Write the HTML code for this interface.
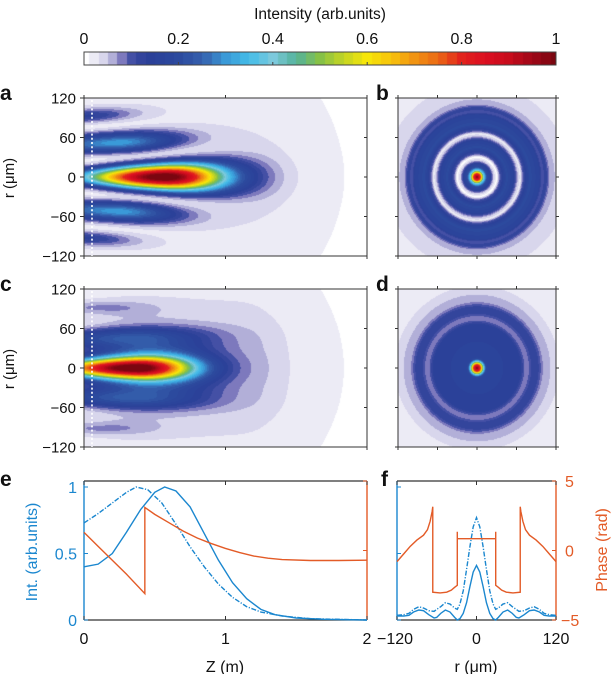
<!DOCTYPE html>
<html><head><meta charset="utf-8">
<style>
html,body{margin:0;padding:0;background:#fff;}
#wrap{position:relative;width:615px;height:674px;overflow:hidden;font-family:"Liberation Sans",sans-serif;}
canvas{position:absolute;}
svg{position:absolute;left:0;top:0;}
</style></head><body>
<div id="wrap">
<canvas id="cbar" width="472" height="13" style="left:84px;top:52px"></canvas>
<canvas id="ca" width="283" height="158" style="left:84px;top:98px"></canvas>
<canvas id="cb" width="158" height="158" style="left:398px;top:98px"></canvas>
<canvas id="cc" width="283" height="158" style="left:84px;top:289px"></canvas>
<canvas id="cd" width="158" height="158" style="left:398px;top:289px"></canvas>
<svg id="svg" width="615" height="674"></svg>
</div>
<script>
// ---------- data ----------
const cmapVals = [0,0.02,0.04,0.06,0.08,0.1,0.13,0.2,0.25,0.3,0.35,0.4,0.45,0.5,0.55,0.6,0.65,0.7,0.75,0.8,0.85,0.9,0.95,1];
const cmapCols = ["#ffffff","#ecebf5","#d8d6ec","#b2afd8","#7d79bd","#4450a5","#2b3f98","#2c4a9e","#3560ad","#3a9ad8","#44bde9","#7cc9dc","#55b39c","#86c146","#c5d524","#f6e60a","#f8c40c","#f29512","#eb6a15","#e2231c","#dc0f22","#c80c1c","#a00818","#7a0610"];
const cbarTicks = [0,0.2,0.4,0.6,0.8,1];
const cbarLabels = ["0","0.2","0.4","0.6","0.8","1"];

// panel a field blobs (coherent)
const aZ0=[0.57,0.25,0.25,0.0,0.0];
const aR0=[0,50,-50,92,-92];
const aRdrift=[0,8,-8,10,-10];
const aA=[1,0.28,0.28,0.12,0.12];
const aSzL=[0.55,0.6,0.6,0.3,0.3];
const aSzR=[0.42,0.42,0.42,0.35,0.35];
const aSr0=[14,15,15,11,11];
const aSrGrow=[10,2,2,2,2];
const aSign=[1,-1,-1,1,1];
const aHaloA=[0.02,0.025,0.006];
const aHaloZ0=[0.7,0.8,1.0];
const aHaloSz=[1.05,0.6,5];
const aHaloSr=[250,55,1000];

// panel c field blobs
const cZ0=[0.37,0.3,0.3,0.1,0.1];
const cR0=[0,45,-45,92,-92];
const cRdrift=[0,5,-5,0,0];
const cA=[1,0.18,0.18,0.05,0.05];
const cSzL=[0.6,0.8,0.8,0.4,0.4];
const cSzR=[0.4,0.5,0.5,0.4,0.4];
const cSr0=[14,14,14,10,10];
const cSrGrow=[8,3,3,2,2];
const cSign=[1,1,1,1,1];
const cHaloA=[0.02,0.03,0.006];
const cHaloZ0=[0.7,0.75,1.0];
const cHaloSz=[1.05,0.65,5];
const cHaloSr=[250,85,1000];

// radial profiles b, d
const bR=[0,5,10,15,20,25,30,35,45,55,62,66,70,80,95,99,104,110,118,130,160,200];
const bI=[1,0.8,0.4,0.2,0.15,0.05,0.0,0.1,0.2,0.15,0.05,0.02,0.1,0.2,0.15,0.09,0.13,0.07,0.05,0.035,0.022,0.02];
const dR=[0,5,10,14,20,40,66,72,78,84,92,100,108,115,125,150,200];
const dI=[1,0.8,0.4,0.18,0.15,0.15,0.14,0.09,0.085,0.12,0.12,0.07,0.06,0.04,0.03,0.02,0.02];

// panel e
const eZ=[0,0.1,0.2,0.3,0.4,0.5,0.57,0.65,0.75,0.85,0.95,1.05,1.15,1.25,1.35,1.5,1.7,2];
const eSolid=[0.40,0.42,0.50,0.66,0.83,0.96,1.0,0.97,0.85,0.65,0.45,0.28,0.16,0.08,0.04,0.015,0.005,0];
const eDZ=[0,0.1,0.2,0.3,0.37,0.45,0.55,0.65,0.75,0.85,0.95,1.05,1.15,1.25,1.4,1.6,2];
const eDash=[0.73,0.80,0.88,0.96,1.0,0.98,0.88,0.72,0.55,0.40,0.27,0.17,0.10,0.06,0.03,0.01,0];
const ePZ=[0,0.1,0.2,0.3,0.43,0.43,0.5,0.6,0.7,0.8,0.9,1.0,1.1,1.2,1.3,1.4,1.6,1.8,2.0];
const ePhase=[1.3,0.3,-0.7,-1.7,-3.1,3.1,2.6,2.0,1.4,0.9,0.5,0.15,-0.15,-0.4,-0.55,-0.65,-0.72,-0.72,-0.7];

// panel f
const fR=[-120,-110,-102,-95,-87,-80,-72,-64,-60,-54,-47,-40,-33,-29,-25,-20,-15,-10,-5,0,5,10,15,20,25,29,33,40,47,54,60,64,72,80,87,95,102,110,120];
const fSolid=[0.03,0.03,0.035,0.06,0.075,0.07,0.04,0.015,0.02,0.05,0.075,0.06,0.02,0.0,0.01,0.05,0.13,0.25,0.36,0.41,0.36,0.25,0.13,0.05,0.01,0.0,0.02,0.06,0.075,0.05,0.02,0.015,0.04,0.07,0.075,0.06,0.035,0.03,0.03];
const fDash=[0.035,0.04,0.05,0.08,0.1,0.09,0.07,0.065,0.08,0.1,0.13,0.12,0.09,0.08,0.12,0.22,0.38,0.55,0.7,0.77,0.7,0.55,0.38,0.22,0.12,0.08,0.09,0.12,0.13,0.1,0.08,0.065,0.07,0.09,0.1,0.08,0.05,0.04,0.035];
const fPR=[-120,-110,-100,-90,-80,-74,-70,-67,-66,-66,-55,-45,-38,-33,-29,-29,null,-29,29,null,29,29,33,38,45,55,66,66,67,70,74,80,90,100,110,120];
const fPV=[-0.8,-0.25,0.3,0.75,1.1,1.5,2.1,2.8,3.15,-3.0,-3.05,-3.0,-2.85,-2.65,-2.5,1.35,null,0.85,0.85,null,1.35,-2.5,-2.65,-2.85,-3.0,-3.05,-3.0,3.15,2.8,2.1,1.5,1.1,0.75,0.3,-0.25,-0.8];

// ---------- helpers ----------
function hex(c){return [parseInt(c.slice(1,3),16),parseInt(c.slice(3,5),16),parseInt(c.slice(5,7),16)];}
const cmapRGB=cmapCols.map(hex);
function cmap(v){
  v=Math.max(0,Math.min(1,v));
  v=Math.round(v/0.02)*0.02;
  for(let i=1;i<cmapVals.length;i++){
    if(v<=cmapVals[i]){const t=(v-cmapVals[i-1])/(cmapVals[i]-cmapVals[i-1]);
      const a=cmapRGB[i-1],b=cmapRGB[i];return [a[0]+(b[0]-a[0])*t,a[1]+(b[1]-a[1])*t,a[2]+(b[2]-a[2])*t];}
  }
  return cmapRGB[cmapRGB.length-1];
}
function interp(xs,ys,x){
  if(x<=xs[0])return ys[0];
  for(let i=1;i<xs.length;i++){if(x<=xs[i]){const t=(x-xs[i-1])/(xs[i]-xs[i-1]);return ys[i-1]+(ys[i]-ys[i-1])*t;}}
  return ys[ys.length-1];
}
function field(z,r,Z0,R0,Rd,A,SzL,SzR,Sr0,SrG,S,HA,HZ,HS,HR){
  let E=0;
  for(let i=0;i<Z0.length;i++){
    const dz=z-Z0[i];const sz=dz<0?SzL[i]:SzR[i];
    const sr=Sr0[i]+SrG[i]*z;const dr=r-(R0[i]+Rd[i]*z);
    E+=S[i]*Math.sqrt(A[i]*Math.exp(-(dz/sz)*(dz/sz)-(dr/sr)*(dr/sr)));
  }
  let I=E*E;
  for(let j=0;j<HA.length;j++){
    const zc=HS[j]*(1-0.12*(r/120)*(r/120));
    I+=HA[j]*Math.exp(-Math.pow(Math.abs(z-HZ[j])/zc,6))*Math.exp(-(r/HR[j])*(r/HR[j]));
  }
  return I;
}
function drawField(id,P){
  const cv=document.getElementById(id),ctx=cv.getContext('2d');const W=cv.width,H=cv.height;
  const img=ctx.createImageData(W,H);
  for(let y=0;y<H;y++)for(let x=0;x<W;x++){
    const z=(x+0.5)/W*2, r=120-(y+0.5)/H*240;
    const c=cmap(field(z,r,...P));const k=(y*W+x)*4;
    img.data[k]=c[0];img.data[k+1]=c[1];img.data[k+2]=c[2];img.data[k+3]=255;
  }
  ctx.putImageData(img,0,0);
}
function drawRadial(id,R,I){
  const cv=document.getElementById(id),ctx=cv.getContext('2d');const W=cv.width,H=cv.height;
  const img=ctx.createImageData(W,H);
  for(let y=0;y<H;y++)for(let x=0;x<W;x++){
    const rx=((x+0.5)/W*240-120),ry=((y+0.5)/H*240-120);
    const c=cmap(interp(R,I,Math.sqrt(rx*rx+ry*ry)));const k=(y*W+x)*4;
    img.data[k]=c[0];img.data[k+1]=c[1];img.data[k+2]=c[2];img.data[k+3]=255;
  }
  ctx.putImageData(img,0,0);
}
(function(){const cv=document.getElementById('cbar'),ctx=cv.getContext('2d');
  for(let x=0;x<cv.width;x++){const c=cmap(x/(cv.width-1));ctx.fillStyle=`rgb(${c[0]|0},${c[1]|0},${c[2]|0})`;ctx.fillRect(x,0,1,cv.height);} })();
drawField('ca',[aZ0,aR0,aRdrift,aA,aSzL,aSzR,aSr0,aSrGrow,aSign,aHaloA,aHaloZ0,aHaloSz,aHaloSr]);
drawField('cc',[cZ0,cR0,cRdrift,cA,cSzL,cSzR,cSr0,cSrGrow,cSign,cHaloA,cHaloZ0,cHaloSz,cHaloSr]);
drawRadial('cb',bR,bI);
drawRadial('cd',dR,dI);

// ---------- SVG ----------
const NS="http://www.w3.org/2000/svg";const svg=document.getElementById('svg');
function el(tag,attrs,txt){const e=document.createElementNS(NS,tag);for(const k in attrs)e.setAttribute(k,attrs[k]);if(txt!==undefined)e.textContent=txt;svg.appendChild(e);return e;}
const BLUE="#1b87cf",ORANGE="#e35b27",AX="#333";
function text(x,y,s,size,anchor,name,extra){const t=el('text',Object.assign({x:x,y:y,'font-size':size,'text-anchor':anchor,fill:'#111','font-family':'"Liberation Sans",sans-serif'},extra||{}),s);
  
  return t;}
function line(x1,y1,x2,y2,col,w,name){const l=el('line',{x1:x1,y1:y1,x2:x2,y2:y2,stroke:col,'stroke-width':w||1});
  
  return l;}

// title & colorbar
text(320,19,"Intensity (arb.units)",15.5,"middle","colorbar-title");
const cbX=v=>84+472*v;
const cbBox=el('rect',{x:84,y:52,width:472,height:13,fill:'none',stroke:'#444','stroke-width':1});


cbarTicks.forEach((v,i)=>{text(cbX(v),44,cbarLabels[i],16,"middle","colorbar-tick-label");
  line(cbX(v),62,cbX(v),65,'#444',1,'colorbar-tick');});

// heatmap axes
const zX0=84,zX1=367;const zx=z=>zX0+(z-0)/2*(zX1-zX0);
const rTicks=[120,60,0,-60,-120];const rLabels=["120","60","0","\u221260","\u2212120"];
function heatAxes(top,letter,lx,ly){
  const ry=r=>top+(120-r)/240*158;
  const box=el('rect',{x:zX0,y:top,width:zX1-zX0,height:158,fill:'none',stroke:AX,'stroke-width':1});
  
  
  rTicks.forEach((r,i)=>{text(76,ry(r)+5.5,rLabels[i],15,"end","r-tick-label");
    line(zX0-4,ry(r),zX0,ry(r),AX,1,'r-tick');line(zX1,ry(r),zX1-3,ry(r),AX,1,'r-tick-right');});
  [0,1,2].forEach(z=>{line(zx(z),top,zx(z),top-3,AX,1,'z-tick-top');line(zx(z),top+158,zx(z),top+161,AX,1,'z-tick-bottom');});
  const dl=el('line',{x1:92,y1:top+2,x2:92,y2:top+158,stroke:'#fff','stroke-width':1.6,'stroke-dasharray':'2,2.2'});
  
  
  text(14,top+80,"r (\u03bcm)",15,"middle","r-axis-title",{transform:`rotate(-90 14 ${top+80})`});
  text(lx,ly,letter,21,"start","panel-label-"+letter,{'font-weight':'bold'});
}
heatAxes(98,'a',0,100);heatAxes(289,'c',0,291);
function squareAxes(top,letter){
  const box=el('rect',{x:398,y:top,width:158,height:158,fill:'none',stroke:AX,'stroke-width':1});
  
  
  [0,0.25,0.5,0.75,1].forEach(f=>{const p=398+158*f,q=top+158*f;
    line(p,top,p,top-3,AX,1,'tick-top');line(p,top+158,p,top+161,AX,1,'tick-bottom');
    line(398,q,395,q,AX,1,'tick-left');line(556,q,559,q,AX,1,'tick-right');});
  text(376,top+2,letter,21,"start","panel-label-"+letter,{'font-weight':'bold'});
}
squareAxes(98,'b');squareAxes(289,'d');

// panel e / f axes
const yI=v=>620-133*v, yP=p=>550.5-13.9*p;
const fx=r=>476.5+r*0.6625;
function pathFrom(xs,ys,fxn,fyn){let d="",pen=false;
  for(let i=0;i<xs.length;i++){if(xs[i]===null||ys[i]===null){pen=false;continue;}
    d+=(pen?"L":"M")+fxn(xs[i]).toFixed(2)+","+fyn(ys[i]).toFixed(2);pen=true;}return d;}
function series(d,col,dash,name){const p=el('path',{d:d,fill:'none',stroke:col,'stroke-width':1.4});if(dash)p.setAttribute('stroke-dasharray',dash);
  
  }

// e frame
line(84,481,367,481,AX,1.2,'e-top-border');line(84,620,367,620,AX,1.2,'e-bottom-border');
line(84,481,84,620,BLUE,1.4,'e-left-axis');line(367,481,367,620,ORANGE,1.4,'e-right-axis');
[0,1,2].forEach(z=>{line(zx(z),481,zx(z),485,AX,1,'e-x-tick-top');line(zx(z),620,zx(z),616,AX,1,'e-x-tick');
  text(zx(z),644,String(z),16,"middle","e-x-tick-label");});
[[0,"0"],[0.5,"0.5"],[1,"1"]].forEach(t=>{line(84,yI(t[0]),88,yI(t[0]),BLUE,1,'e-y-tick');
  text(77,yI(t[0])+6,t[1],16,"end","e-y-tick-label",{fill:BLUE});});
[-5,0,5].forEach(p=>line(367,yP(p),363,yP(p),ORANGE,1,'e-phase-tick'));
text(225,672,"Z (m)",16,"middle","e-x-axis-title");
text(37,552,"Int. (arb.units)",16,"middle","e-y-axis-title",{fill:BLUE,transform:'rotate(-90 37 552)'});
text(0,486,"e",21,"start","panel-label-e",{'font-weight':'bold'});
series(pathFrom(eDZ,eDash,zx,yI),BLUE,"5,1.6,1.2,1.6","e-dashdot-intensity");
series(pathFrom(eZ,eSolid,zx,yI),BLUE,null,"e-solid-intensity");
series(pathFrom(ePZ,ePhase,zx,yP),ORANGE,null,"e-phase-line");

// f frame
line(397,481,556,481,AX,1.2,'f-top-border');line(397,620,556,620,AX,1.2,'f-bottom-border');
line(397,481,397,620,BLUE,1.4,'f-left-axis');line(556,481,556,620,ORANGE,1.4,'f-right-axis');
[-120,0,120].forEach(r=>{line(fx(r),481,fx(r),485,AX,1,'f-x-tick-top');line(fx(r),620,fx(r),616,AX,1,'f-x-tick');});
text(fx(-120)-2,644,"\u2212120",16,"middle","f-x-tick-label");text(fx(0),644,"0",16,"middle","f-x-tick-label");text(fx(120),644,"120",16,"middle","f-x-tick-label");
[0,0.5,1].forEach(v=>line(397,yI(v),401,yI(v),BLUE,1,'f-y-tick'));
[[5,"5"],[0,"0"],[-5,"\u22125"]].forEach(t=>{line(556,yP(t[0]),552,yP(t[0]),ORANGE,1,'f-phase-tick');
  text(t[0]<0?561:565,yP(t[0])+6,t[1],16,"start","f-phase-tick-label",{fill:ORANGE});});
text(476,672,"r (\u03bcm)",16,"middle","f-x-axis-title");
text(607,550,"Phase (rad)",16,"middle","f-y-axis-title",{fill:ORANGE,transform:'rotate(-90 607 550)'});
text(381,486,"f",21,"start","panel-label-f",{'font-weight':'bold'});
series(pathFrom(fR,fDash,fx,yI),BLUE,"5,1.6,1.2,1.6","f-dashdot-intensity");
series(pathFrom(fR,fSolid,fx,yI),BLUE,null,"f-solid-intensity");
series(pathFrom(fPR,fPV,fx,yP),ORANGE,null,"f-phase-line");
</script>
</body></html>
